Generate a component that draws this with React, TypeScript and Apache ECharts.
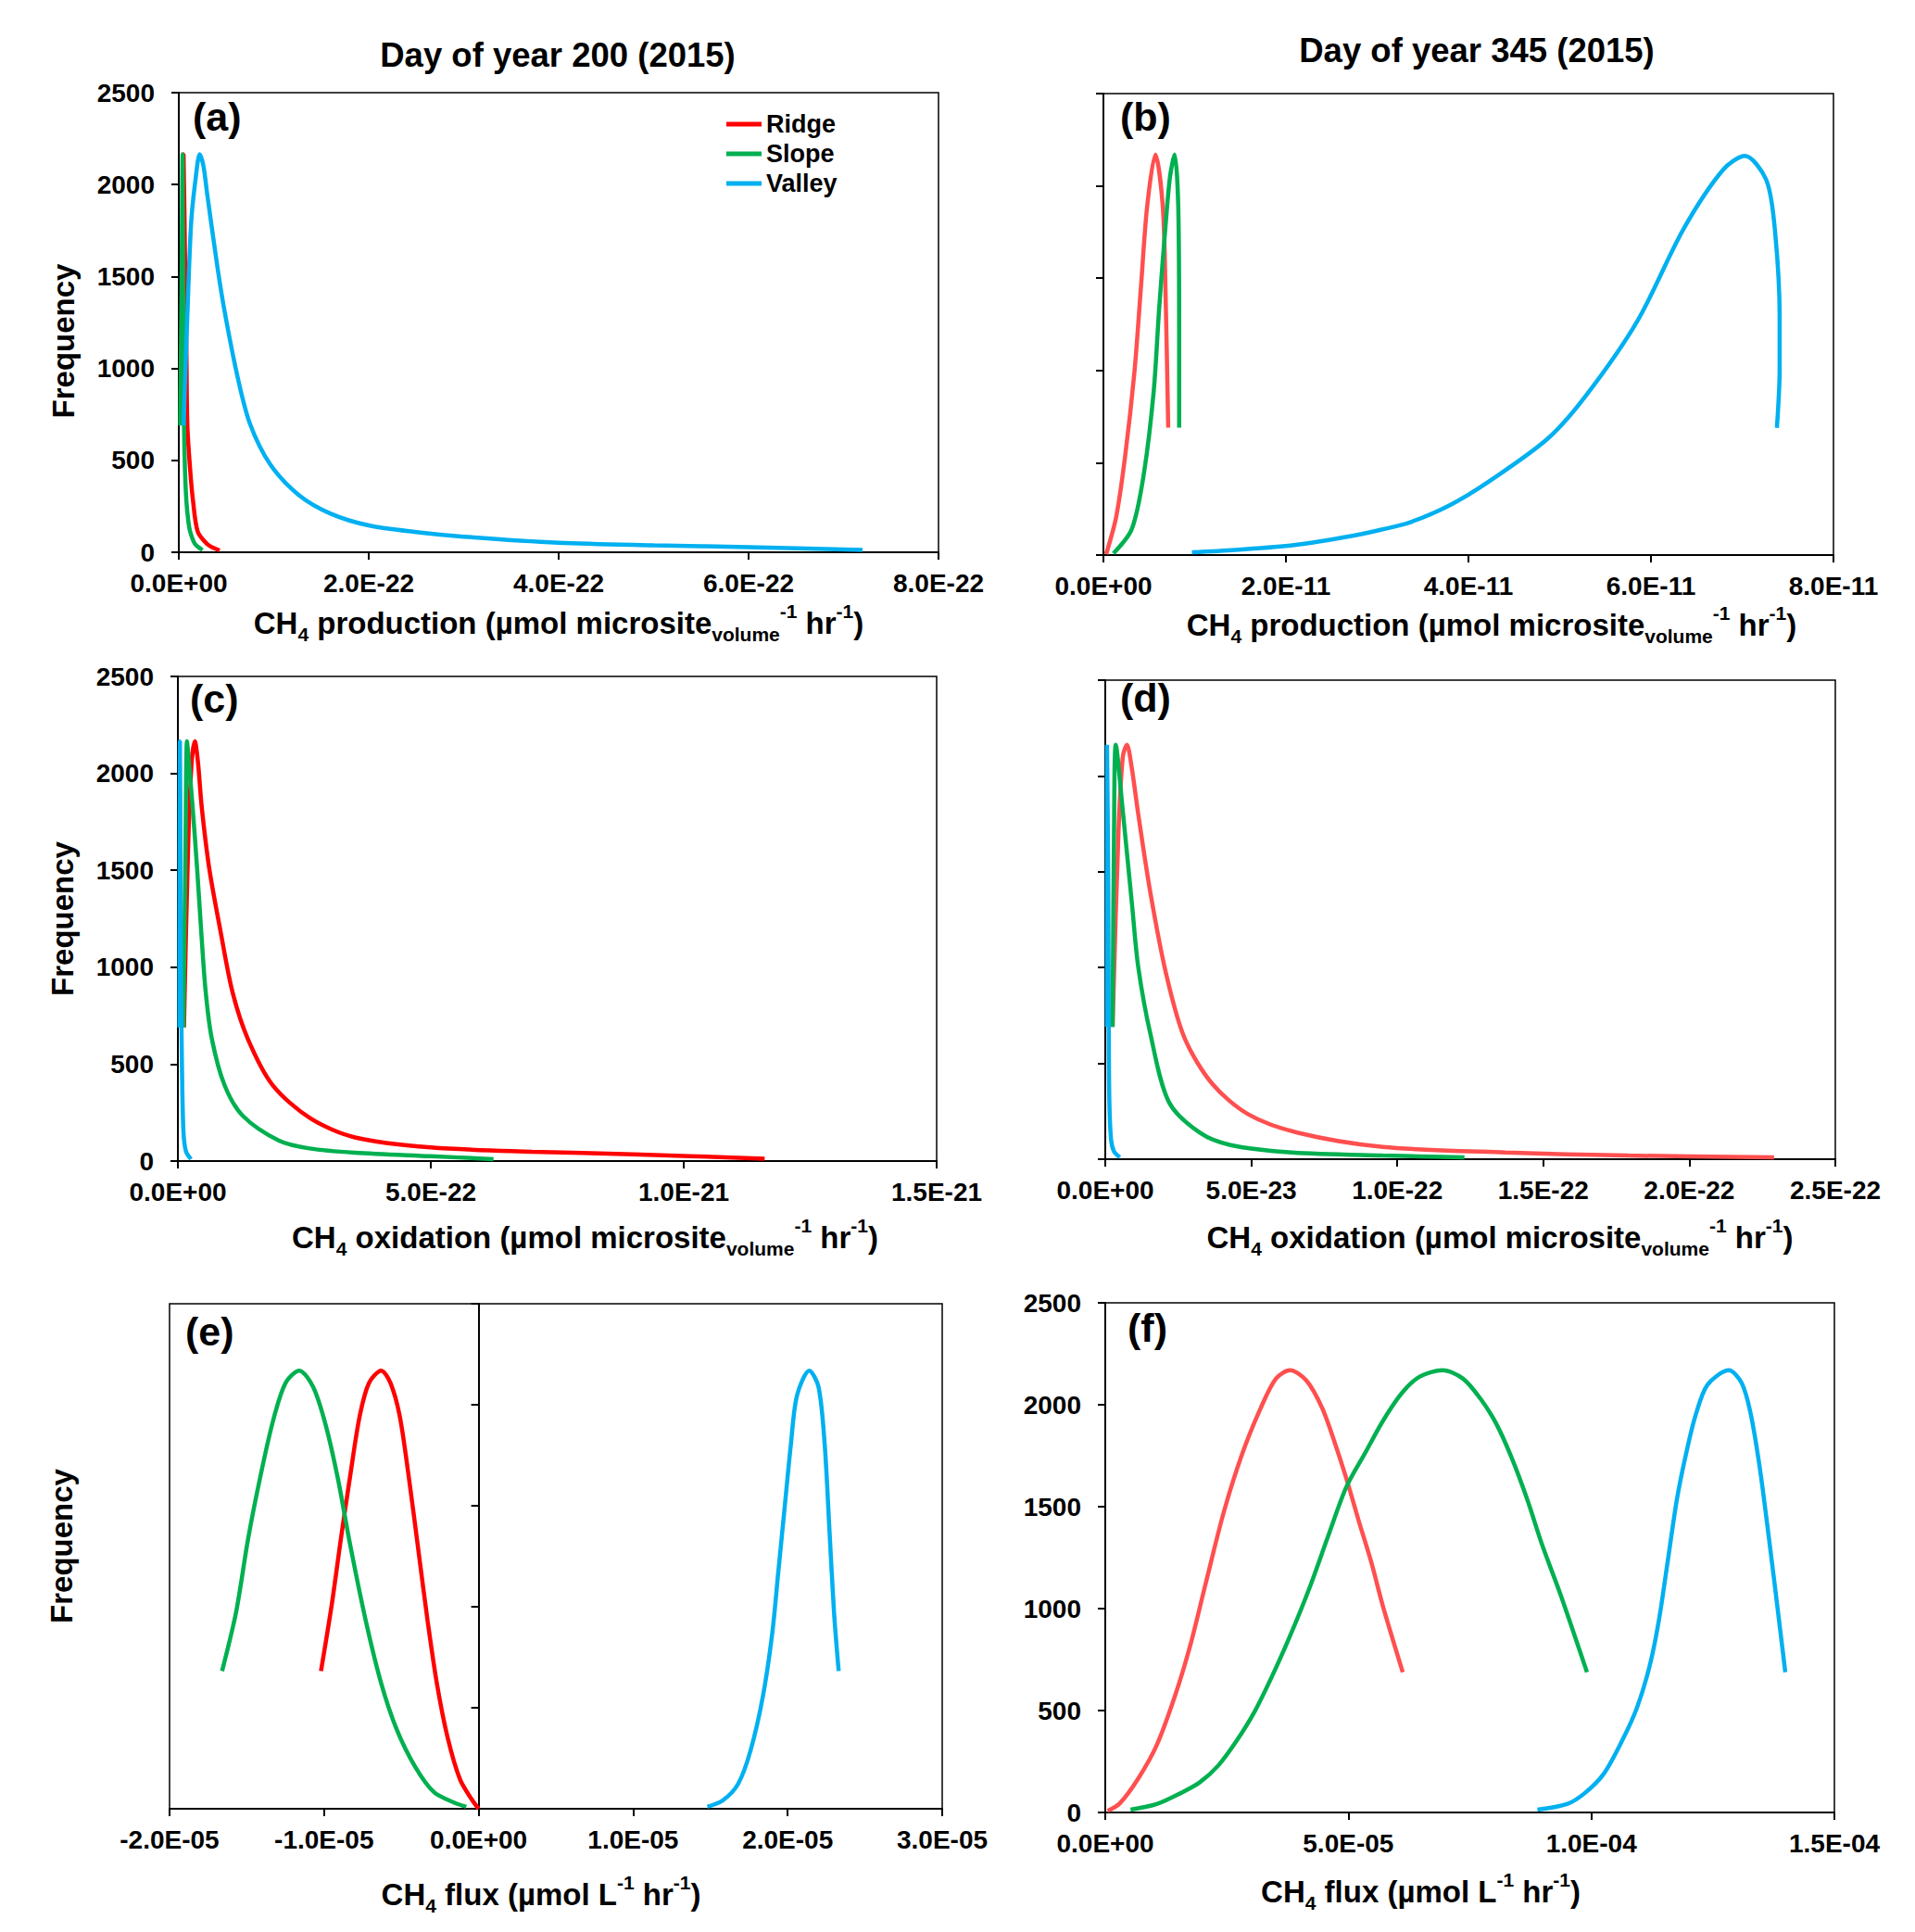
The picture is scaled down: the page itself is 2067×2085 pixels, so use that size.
import { useEffect, useRef } from "react";
import * as echarts from "echarts";

const FONT = "'Liberation Sans', Arial, Helvetica, sans-serif";
const RED = "#FF0000";
const RED_SOFT = "#FF4F4F";
const GREEN = "#00B050";
const BLUE = "#00B0F0";

type Pt = [number, number];

const SERIES_NAMES = ["Ridge", "Slope", "Valley"];
const Y_TICKS = [0, 500, 1000, 1500, 2000, 2500];
const Y_NAME = "Frequency";

// (a) CH4 production, day 200 — x in units of 1E-22
const prodA_ridge: Pt[] = [[0.03, 690], [0.04, 1500], [0.05, 2165], [0.065, 1600], [0.08, 1090], [0.09, 690], [0.12, 446], [0.15, 278], [0.2, 111], [0.3, 44], [0.36, 25], [0.43, 10]];
const prodA_slope: Pt[] = [[0.015, 690], [0.03, 1500], [0.04, 2165], [0.045, 1500], [0.05, 1000], [0.055, 690], [0.065, 446], [0.08, 278], [0.1, 170], [0.12, 111], [0.17, 45], [0.25, 12]];
const prodA_valley: Pt[] = [[0.05, 690], [0.09, 1288], [0.13, 1793], [0.18, 2045], [0.22, 2165], [0.26, 2100], [0.3, 1944], [0.41, 1540], [0.49, 1288], [0.62, 951], [0.75, 698], [0.96, 480], [1.26, 313], [1.6, 210], [2.0, 146], [2.5, 110], [3.0, 85], [4.0, 52], [5.0, 38], [6.0, 28], [7.2, 12]];

// (b) CH4 production, day 345 — x in units of 1E-11
const prodB_ridge: Pt[] = [[0.03, 5], [0.14, 207], [0.24, 544], [0.34, 993], [0.41, 1443], [0.48, 1892], [0.57, 2170], [0.65, 1892], [0.68, 1443], [0.71, 690]];
const prodB_slope: Pt[] = [[0.11, 9], [0.31, 140], [0.44, 431], [0.55, 881], [0.61, 1330], [0.68, 1780], [0.73, 2050], [0.78, 2170], [0.82, 1892], [0.83, 1200], [0.83, 690]];
const prodB_valley: Pt[] = [[0.97, 15], [1.44, 28], [2.09, 54], [2.73, 104], [3.05, 138], [3.37, 179], [3.8, 271], [4.22, 397], [4.87, 631], [5.29, 865], [5.85, 1267], [6.36, 1769], [6.79, 2087], [7.03, 2162], [7.26, 2036], [7.35, 1802], [7.41, 1300], [7.41, 1000], [7.38, 689]];

// (c) CH4 oxidation, day 200 — x in units of 1E-22
const oxC_ridge: Pt[] = [[0.12, 690], [0.2, 1600], [0.27, 2050], [0.335, 2165], [0.4, 2050], [0.47, 1830], [0.62, 1510], [0.84, 1190], [1.08, 872], [1.38, 632], [1.87, 393], [2.62, 220], [3.5, 122], [5.0, 70], [7.0, 48], [9.0, 35], [11.6, 12]];
const oxC_slope: Pt[] = [[0.11, 690], [0.15, 1600], [0.18, 2165], [0.22, 2050], [0.29, 1830], [0.38, 1510], [0.46, 1190], [0.55, 872], [0.67, 632], [0.92, 393], [1.28, 234], [2.0, 105], [2.6, 65], [3.5, 43], [5.0, 25], [6.24, 10]];
const oxC_valley: Pt[] = [[0.03, 690], [0.04, 2165], [0.05, 1700], [0.06, 1000], [0.08, 500], [0.11, 153], [0.16, 50], [0.26, 10]];

// (d) CH4 oxidation, day 345 — x in units of 1E-23
const oxD_ridge: Pt[] = [[0.25, 690], [0.45, 1700], [0.6, 2100], [0.74, 2163], [0.9, 2050], [1.13, 1800], [1.55, 1386], [2.08, 970], [2.71, 634], [3.66, 394], [4.9, 234], [6.6, 138], [9.5, 64], [13.7, 35], [17.9, 19], [22.9, 10]];
const oxD_slope: Pt[] = [[0.25, 690], [0.3, 1700], [0.36, 2163], [0.61, 1802], [0.92, 1322], [1.13, 1002], [1.55, 650], [2.18, 298], [3.24, 138], [4.29, 74], [6.39, 35], [9.5, 19], [12.3, 10]];
const oxD_valley: Pt[] = [[0.06, 690], [0.06, 2163], [0.1, 1500], [0.12, 700], [0.14, 300], [0.2, 100], [0.3, 40], [0.5, 10]];

// (e) CH4 flux, day 200 — x in units of 1E-05
const fluxE_ridge: Pt[] = [[-1.02, 682], [-0.95, 1012], [-0.89, 1343], [-0.83, 1653], [-0.77, 1942], [-0.71, 2107], [-0.63, 2169], [-0.57, 2107], [-0.51, 1942], [-0.45, 1632], [-0.39, 1281], [-0.33, 930], [-0.27, 620], [-0.2, 351], [-0.12, 145], [-0.04, 41], [0, 0]];
const fluxE_slope: Pt[] = [[-1.66, 682], [-1.57, 971], [-1.49, 1343], [-1.41, 1653], [-1.33, 1921], [-1.25, 2107], [-1.16, 2169], [-1.07, 2087], [-0.99, 1901], [-0.91, 1632], [-0.83, 1302], [-0.73, 930], [-0.63, 620], [-0.53, 393], [-0.41, 207], [-0.29, 83], [-0.16, 31], [-0.08, 10]];
const fluxE_valley: Pt[] = [[1.48, 10], [1.58, 41], [1.68, 124], [1.76, 289], [1.84, 558], [1.9, 868], [1.94, 1178], [1.98, 1488], [2.02, 1798], [2.06, 2045], [2.14, 2169], [2.2, 2087], [2.24, 1798], [2.27, 1384], [2.3, 971], [2.33, 682]];

// (f) CH4 flux, day 345 — x in units of 1E-05
const fluxF_ridge: Pt[] = [[0.05, 8], [0.3, 45], [0.68, 167], [1.06, 331], [1.44, 576], [1.75, 821], [2.07, 1127], [2.44, 1475], [2.82, 1761], [3.2, 1985], [3.51, 2128], [3.8, 2169], [4.14, 2118], [4.46, 1985], [4.71, 1822], [4.96, 1638], [5.21, 1434], [5.47, 1230], [5.72, 1005], [6.12, 688]];
const fluxF_slope: Pt[] = [[0.52, 14], [1.06, 41], [1.56, 96], [1.94, 147], [2.32, 229], [2.7, 351], [3.07, 494], [3.45, 678], [3.83, 882], [4.21, 1107], [4.58, 1352], [4.96, 1597], [5.34, 1761], [5.72, 1924], [6.1, 2057], [6.47, 2138], [6.94, 2169], [7.36, 2128], [7.73, 2026], [8.05, 1904], [8.36, 1740], [8.68, 1536], [8.99, 1311], [9.37, 1066], [9.91, 688]];
const fluxF_valley: Pt[] = [[8.89, 14], [9.5, 41], [9.87, 96], [10.25, 188], [10.63, 351], [10.94, 515], [11.2, 719], [11.39, 944], [11.57, 1230], [11.76, 1536], [11.95, 1761], [12.14, 1945], [12.39, 2098], [12.83, 2169], [13.09, 2108], [13.27, 1965], [13.46, 1699], [13.65, 1352], [13.84, 984], [13.99, 688]];

// x-axis ranges [min, max, step, exponent of unit]
const X_A = [0, 8, 2, -22];
const X_B = [0, 8, 2, -11];
const X_C = [0, 15, 5, -22];
const X_D = [0, 25, 5, -23];
const X_E = [-2, 3, 1, -5];
const X_F = [0, 15, 5, -5];

const TITLES = ["Day of year 200 (2015)", "Day of year 345 (2015)"];
const PANEL_TAGS = ["(a)", "(b)", "(c)", "(d)", "(e)", "(f)"];
const PROD_NAME = "CH{sub|4} production (µmol microsite{sub|volume}{sup|-1} hr{sup|-1})";
const OX_NAME = "CH{sub|4} oxidation (µmol microsite{sub|volume}{sup|-1} hr{sup|-1})";
const FLUX_NAME = "CH{sub|4} flux (µmol L{sup|-1} hr{sup|-1})";

const sci = (exp: number) => (v: number) =>
  (v * Math.pow(10, exp))
    .toExponential(1)
    .toUpperCase()
    .replace(/E([+-])(\d+)$/, (_m, s, d) => "E" + s + (d.length < 2 ? "0" + d : d));

// yName: "axis" = axis name, "free" = separate text (panel e, axis sits at x = 0)
// nameShift: horizontal offset of the x-axis title from the grid centre
const panels = [
  { grid: [193, 100, 820, 496], x: X_A, name: PROD_NAME, gap: 53, nameShift: 0, yLabels: true, yName: "axis", yShift: 40, onZero: false, colors: [RED, GREEN, BLUE], data: [prodA_ridge, prodA_slope, prodA_valley], tag: [208, 104] },
  { grid: [1191, 101, 788, 498], x: X_B, name: PROD_NAME, gap: 52, nameShift: 25, yLabels: false, yName: "", yShift: 0, onZero: false, colors: [RED_SOFT, GREEN, BLUE], data: [prodB_ridge, prodB_slope, prodB_valley], tag: [1209, 104] },
  { grid: [192, 730, 819, 523], x: X_C, name: OX_NAME, gap: 59, nameShift: 30, yLabels: true, yName: "axis", yShift: 0, onZero: false, colors: [RED, GREEN, BLUE], data: [oxC_ridge, oxC_slope, oxC_valley], tag: [205, 732] },
  { grid: [1193, 734, 788, 517], x: X_D, name: OX_NAME, gap: 61, nameShift: 32, yLabels: false, yName: "", yShift: 0, onZero: false, colors: [RED_SOFT, GREEN, BLUE], data: [oxD_ridge, oxD_slope, oxD_valley], tag: [1209, 731] },
  { grid: [183, 1407, 834, 545], x: X_E, name: FLUX_NAME, gap: 69, nameShift: -16, yLabels: false, yName: "free", yShift: 0, onZero: true, colors: [RED, GREEN, BLUE], data: [fluxE_ridge, fluxE_slope, fluxE_valley], tag: [200, 1415] },
  { grid: [1193, 1406, 787, 550], x: X_F, name: FLUX_NAME, gap: 62, nameShift: -53, yLabels: true, yName: "", yShift: 0, onZero: false, colors: [RED_SOFT, GREEN, BLUE], data: [fluxF_ridge, fluxF_slope, fluxF_valley], tag: [1217, 1411] },
];

const nameStyle = (shift: number) => ({
  fontSize: 33,
  fontWeight: "bold",
  color: "#000",
  fontFamily: FONT,
  lineHeight: 46,
  padding: shift >= 0 ? [0, 0, 0, 2 * shift] : [0, -2 * shift, 0, 0],
  rich: {
    sub: { fontSize: 21, fontWeight: "bold", color: "#000", fontFamily: FONT, verticalAlign: "bottom", lineHeight: 24 },
    sup: { fontSize: 21, fontWeight: "bold", color: "#000", fontFamily: FONT, verticalAlign: "top", lineHeight: 32 },
  },
});

const tickStyle = { show: true, inside: false, length: 8, lineStyle: { color: "#000", width: 2 } };
const lineAxis = { lineStyle: { color: "#000", width: 2 } };
const labelStyle = { color: "#000", fontSize: 28, fontWeight: "bold", fontFamily: FONT };

export default function App() {
  const ref = useRef<HTMLDivElement>(null);

  useEffect(() => {
    document.body.style.margin = "0";
    if (!ref.current) return;
    const chart = echarts.init(ref.current, null, { renderer: "svg" });

    const tags = panels.map((p, i) => ({
      type: "text",
      left: p.tag[0],
      top: p.tag[1],
      style: { text: PANEL_TAGS[i], font: `bold 43px ${FONT}`, fill: "#000" },
    }));
    const freeNames = panels
      .filter((p) => p.yName === "free")
      .map((p) => ({
        type: "text",
        x: 66,
        y: p.grid[1] + p.grid[3] / 2 - 11,
        rotation: Math.PI / 2,
        style: { text: Y_NAME, font: `bold 33px ${FONT}`, fill: "#000", align: "center", verticalAlign: "middle" },
      }));

    const option = {
      animation: false,
      backgroundColor: "#fff",
      title: TITLES.map((t, i) => ({
        text: t,
        left: i === 0 ? 602 : 1594,
        top: i === 0 ? 41 : 36,
        textAlign: "center",
        padding: 0,
        textStyle: { fontSize: 36.5, fontWeight: "bold", color: "#000", fontFamily: FONT },
      })),
      legend: {
        data: SERIES_NAMES,
        orient: "vertical",
        left: 784,
        top: 118,
        padding: 0,
        itemGap: 0,
        itemWidth: 38,
        itemHeight: 5,
        icon: "rect",
        selectedMode: false,
        textStyle: { fontSize: 27, fontWeight: "bold", color: "#000", fontFamily: FONT, lineHeight: 32 },
      },
      grid: panels.map((p) => ({
        left: p.grid[0],
        top: p.grid[1],
        width: p.grid[2],
        height: p.grid[3],
        show: true,
        borderColor: "#000",
        borderWidth: 1.5,
        containLabel: false,
        outerBoundsMode: "none",
      })),
      xAxis: panels.map((p, i) => ({
        type: "value",
        gridIndex: i,
        min: p.x[0],
        max: p.x[1],
        interval: p.x[2],
        axisLine: { ...lineAxis, onZero: false },
        axisTick: tickStyle,
        splitLine: { show: false },
        axisLabel: { ...labelStyle, margin: 19, formatter: sci(p.x[3]) },
        name: p.name,
        nameLocation: "middle",
        nameGap: p.gap,
        nameTextStyle: nameStyle(p.nameShift),
      })),
      yAxis: panels.map((p, i) => ({
        type: "value",
        gridIndex: i,
        min: Y_TICKS[0],
        max: Y_TICKS[Y_TICKS.length - 1],
        interval: Y_TICKS[1] - Y_TICKS[0],
        axisLine: { ...lineAxis, onZero: p.onZero },
        axisTick: tickStyle,
        splitLine: { show: false },
        axisLabel: { ...labelStyle, show: p.yLabels, margin: 26, formatter: (v: number) => String(v) },
        name: p.yName === "axis" ? Y_NAME : "",
        nameLocation: "middle",
        nameGap: 108,
        nameTextStyle: {
          fontSize: 33,
          fontWeight: "bold",
          color: "#000",
          fontFamily: FONT,
          padding: [0, p.yShift, 0, 0],
        },
      })),
      series: panels.flatMap((p, i) =>
        p.data.map((d, k) => ({
          type: "line",
          name: SERIES_NAMES[k],
          xAxisIndex: i,
          yAxisIndex: i,
          data: d,
          symbol: "none",
          showSymbol: false,
          smooth: 0.3,
          lineStyle: { width: 4.5, color: p.colors[k] },
          itemStyle: { color: p.colors[k] },
        }))
      ),
      graphic: [...tags, ...freeNames],
    };

    chart.setOption(option as any);
    return () => chart.dispose();
  }, []);

  return <div ref={ref} style={{ width: 2067, height: 2085 }} />;
}
